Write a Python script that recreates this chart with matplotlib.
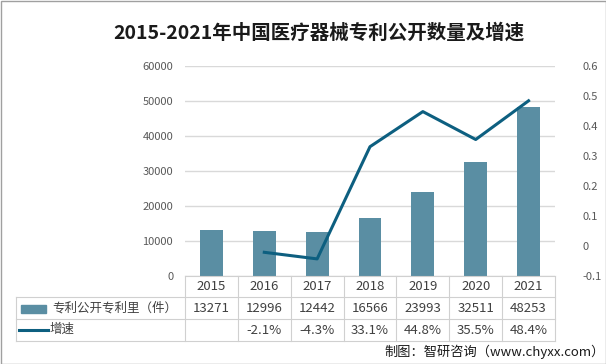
import matplotlib.pyplot as plt
from matplotlib.patches import Rectangle
from matplotlib.lines import Line2D
import matplotlib.transforms as mtransforms

plt.rcParams['font.family'] = ['Noto Sans CJK SC', 'DejaVu Sans']

# 数据
years = ['2015', '2016', '2017', '2018', '2019', '2020', '2021']
patents = [13271, 12996, 12442, 16566, 23993, 32511, 48253]
growth = [None, -0.021, -0.043, 0.331, 0.448, 0.355, 0.484]
growth_labels = ['', '-2.1%', '-4.3%', '33.1%', '44.8%', '35.5%', '48.4%']

bar_color = '#5a8ea3'
line_color = '#0d5f80'
grid_color = '#d9d9d9'
text_color = '#404040'

W, H = 606, 364
fig = plt.figure(figsize=(W / 100, H / 100), dpi=100)

# 绘图区（像素换算）
x0, x1, y0, y1 = 185, 555, 276, 66
ax = fig.add_axes([x0 / W, 1 - y0 / H, (x1 - x0) / W, (y0 - y1) / H])
ax2 = ax.twinx()

xs = list(range(len(years)))
ax.bar(xs, patents, width=0.43, color=bar_color, zorder=2)
ax.set_xlim(-0.5, len(years) - 0.5)
ax.set_ylim(0, 60000)
ax.set_yticks(range(0, 60001, 10000))
ax.grid(axis='y', color=grid_color, linewidth=1, zorder=0)
ax.set_axisbelow(True)
ax.set_xticks([])
ax.tick_params(axis='y', length=0, labelsize=8, labelcolor='#595959', pad=8.5)

gx = [i for i, g in zip(xs, growth) if g is not None]
gy = [g for g in growth if g is not None]
ax2.plot(gx, gy, color=line_color, linewidth=2.2, zorder=3)
ax2.set_ylim(-0.1, 0.6)
ax2.set_yticks([-0.1, 0, 0.1, 0.2, 0.3, 0.4, 0.5, 0.6])
ax2.set_yticklabels(['-0.1', '0', '0.1', '0.2', '0.3', '0.4', '0.5', '0.6'])
ax2.tick_params(axis='y', length=0, labelsize=8, labelcolor='#595959', pad=20)

for a in (ax, ax2):
    for s in a.spines.values():
        s.set_visible(False)

# 数据表（在图像像素坐标中绘制）
pix = mtransforms.Affine2D().scale(1 / W, -1 / H).translate(0, 1) + fig.transFigure
tcol = '#d0d0d0'
rows_y = [276, 297, 319, 341]
col_w = (x1 - x0) / len(years)
for yy in rows_y[1:]:
    fig.lines.append(Line2D([16, x1], [yy, yy], transform=pix, color=tcol, lw=0.8))
fig.lines.append(Line2D([x0, x1], [276, 276], transform=pix, color=tcol, lw=0.8))
fig.lines.append(Line2D([16, 16], [297, 341], transform=pix, color=tcol, lw=0.8))
for i in range(len(years) + 1):
    xx = x0 + i * col_w
    fig.lines.append(Line2D([xx, xx], [276, 341], transform=pix, color=tcol, lw=0.8))

for i in range(len(years)):
    cx = x0 + (i + 0.5) * col_w
    fig.text(cx, 287, years[i], transform=pix, ha='center', va='center',
             fontsize=9.5, color=text_color)
    fig.text(cx, 308.5, str(patents[i]), transform=pix, ha='center', va='center',
             fontsize=9.5, color=text_color)
    fig.text(cx, 330, growth_labels[i], transform=pix, ha='center', va='center',
             fontsize=9.5, color=text_color)

fig.patches.append(Rectangle((21, 305), 25, 8, transform=pix, color=bar_color))
fig.text(52, 308, '专利公开专利里（件）', transform=pix, ha='left', va='center',
         fontsize=9, color=text_color)
fig.lines.append(Line2D([19, 48], [330, 330], transform=pix, color=line_color, lw=2.2))
fig.text(50, 329, '增速', transform=pix, ha='left', va='center',
         fontsize=9, color=text_color)

# 标题与来源
fig.text(319, 33, '2015-2021年中国医疗器械专利公开数量及增速', transform=pix,
         ha='center', va='center', fontsize=14, fontweight='bold', color='#1a1a1a')
fig.text(605, 352, '制图：智研咨询（www.chyxx.com）', transform=pix,
         ha='right', va='center', fontsize=9.5, color='#1a1a1a')

# 外框
fig.patches.append(Rectangle((0.5, 0.5), W - 1, H - 1, transform=pix,
                             fill=False, edgecolor='#a0a0a0', lw=1))

fig.savefig('out.png', dpi=100)
